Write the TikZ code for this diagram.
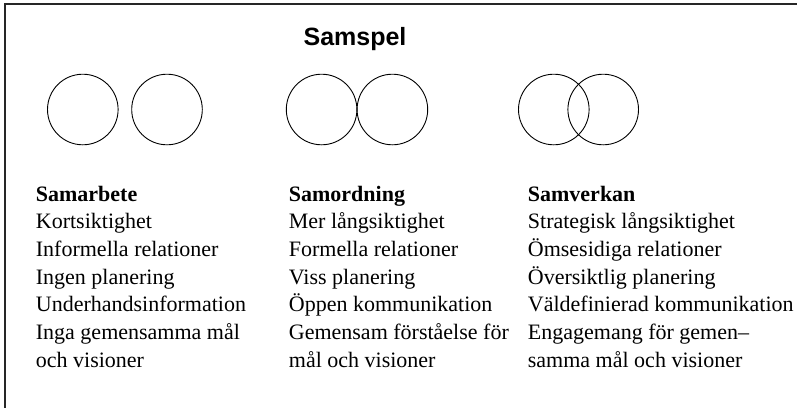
\documentclass[tikz,border=0pt]{standalone}
\usepackage{fontspec}
\setmainfont{Liberation Serif}
\newfontfamily\titlefont{Liberation Sans}
\begin{document}
\begin{tikzpicture}[x=1pt,y=-1pt,
  ring/.style={draw=black,line width=0.9pt,circle,minimum size=70.6pt,inner sep=0pt},
  frameline/.style={draw=black!85,line width=1.2pt},
  titletext/.style={font=\titlefont\bfseries\fontsize{25}{30}\selectfont,inner sep=0pt,anchor=base},
  headtext/.style={font=\bfseries\fontsize{22}{27}\selectfont,inner sep=0pt,anchor=base west},
  bodytext/.style={font=\fontsize{22}{27}\selectfont,inner sep=0pt,anchor=base west}]
\useasboundingbox (0,0) rectangle (797,408);

% open frame: top and left edges
\coordinate (ftl) at (5,4);
\coordinate (ftr) at (797,4);
\coordinate (fbl) at (5,408);
\draw[frameline] (ftr) -- (ftl) -- (fbl);

\node[titletext] (title) at (355,45.5) {Samspel};

% circle pairs: apart, touching, overlapping
\node[ring] (a1) at (82.8,109.5) {};
\node[ring] (a2) at (167,109.5) {};
\node[ring] (b1) at (321.6,109.5) {};
\node[ring] (b2) at (392.4,109.5) {};
\node[ring] (c1) at (553.8,109.5) {};
\node[ring] (c2) at (603.2,109.5) {};

% column texts
\def\lsk{27.7}
\node[headtext] (h1) at (35.7,201) {Samarbete};
\foreach \t [count=\i] in {Kortsiktighet,Informella relationer,Ingen planering,Underhandsinformation,Inga gemensamma mål,och visioner}
  \node[bodytext] (p1l\i) at (35.7,201+\i*\lsk) {\t};

\node[headtext] (h2) at (288.7,201) {Samordning};
\foreach \t [count=\i] in {Mer långsiktighet,Formella relationer,Viss planering,Öppen kommunikation,Gemensam förståelse för,mål och visioner}
  \node[bodytext] (p2l\i) at (288.7,201+\i*\lsk) {\t};

\node[headtext] (h3) at (527.7,201) {Samverkan};
\foreach \t [count=\i] in {Strategisk långsiktighet,Ömsesidiga relationer,Översiktlig planering,Väldefinierad kommunikation,Engagemang för gemen–,samma mål och visioner}
  \node[bodytext] (p3l\i) at (527.7,201+\i*\lsk) {\t};
\end{tikzpicture}
\end{document}
